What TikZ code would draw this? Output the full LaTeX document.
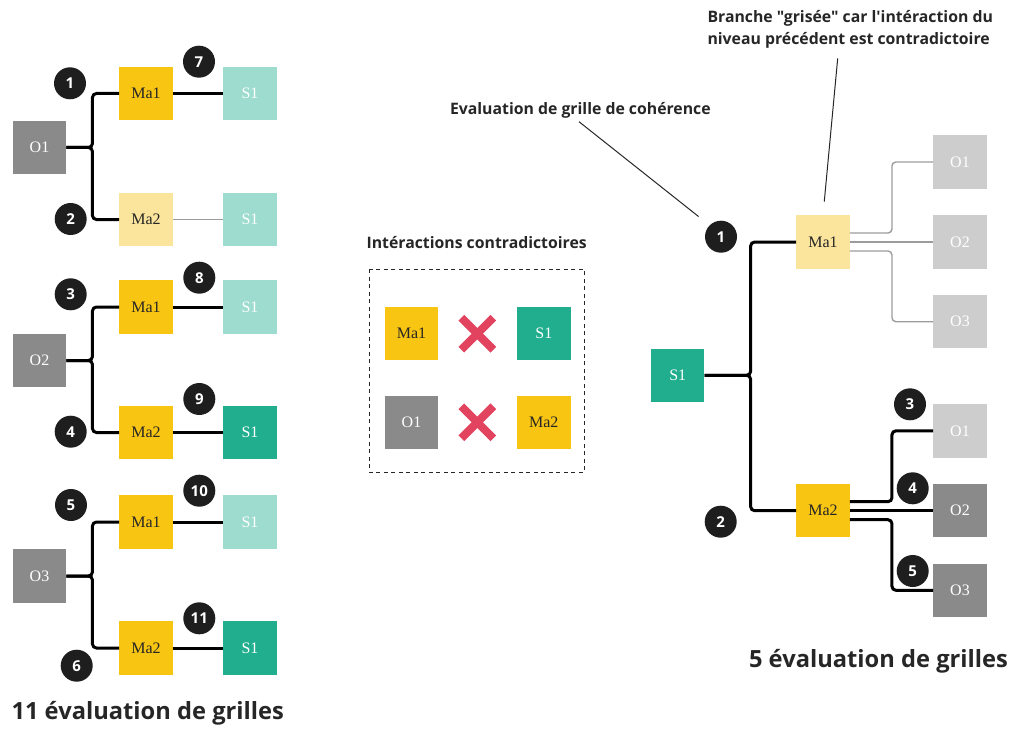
\documentclass[tikz,border=0pt]{standalone}
\usepackage{fontspec}
\setmainfont{Liberation Serif}
\newfontfamily\opensans{Open Sans}
\usepackage{tikz}
\usetikzlibrary{calc}

\definecolor{jaune}{HTML}{F9C513}
\definecolor{jaunepale}{HTML}{FBE49C}
\definecolor{vert}{HTML}{21AE8E}
\definecolor{vertpale}{HTML}{9DDCCF}
\definecolor{gris}{HTML}{8A8A8A}
\definecolor{grispale}{HTML}{CDCDCD}
\definecolor{filgris}{HTML}{9C9C9C}
\definecolor{noir}{HTML}{1E1E1E}
\definecolor{texte}{HTML}{262626}
\definecolor{rouge}{HTML}{E2435F}

\begin{document}
\begin{tikzpicture}[x=1pt,y=-1pt,
    boite/.style={minimum size=53.5pt,inner sep=0pt,font=\fontsize{16}{16}\selectfont},
    bo/.style={boite,fill=gris,text=white},
    bop/.style={boite,fill=grispale,text=white},
    bma/.style={boite,fill=jaune,text=texte},
    bmap/.style={boite,fill=jaunepale,text=texte},
    bs/.style={boite,fill=vert,text=white},
    bsp/.style={boite,fill=vertpale,text=white},
    pastille/.style={circle,fill=noir,text=white,minimum size=32pt,inner sep=0pt,
        font=\opensans\bfseries\fontsize{15}{15}\selectfont},
    branche/.style={line width=3pt,draw=black,rounded corners=4pt},
    brgrise/.style={line width=1.4pt,draw=filgris,rounded corners=4pt},
    fil/.style={line width=1pt,draw=texte},
    note/.style={text=texte,font=\opensans\bfseries\fontsize{15.8}{22}\selectfont},
    titre/.style={text=texte,font=\opensans\bfseries\fontsize{23.7}{24}\selectfont},
    croix/.style={line width=8pt,draw=rouge}]

    % cadre
    \useasboundingbox (0,0) rectangle (1011,754);

    % arbre O1
    \node[bo] (o1) at (39.5,147.5) {O1};
    \node[bma] (ma1a) at (146,93.5) {Ma1};
    \node[bsp] (s1a) at (250,93.5) {S1};
    \node[bmap] (ma2a) at (146,219.5) {Ma2};
    \node[bsp] (s1b) at (250,219.5) {S1};
    \draw[branche] (o1.east) -- ++(26,0) |- (ma1a.west);
    \draw[branche] (o1.east) -- ++(26,0) |- (ma2a.west);
    \draw[branche] (ma1a.east) -- (s1a.west);
    \draw[brgrise] (ma2a.east) -- (s1b.west);

    % arbre O2
    \node[bo] (o2) at (39.5,360.5) {O2};
    \node[bma] (ma1b) at (146,307) {Ma1};
    \node[bsp] (s1c) at (250,307) {S1};
    \node[bma] (ma2b) at (146,432.5) {Ma2};
    \node[bs] (s1d) at (250,432.5) {S1};
    \draw[branche] (o2.east) -- ++(26,0) |- (ma1b.west);
    \draw[branche] (o2.east) -- ++(26,0) |- (ma2b.west);
    \draw[branche] (ma1b.east) -- (s1c.west);
    \draw[branche] (ma2b.east) -- (s1d.west);

    % arbre O3
    \node[bo] (o3) at (39.5,576) {O3};
    \node[bma] (ma1c) at (146,522) {Ma1};
    \node[bsp] (s1e) at (250,522) {S1};
    \node[bma] (ma2c) at (146,648) {Ma2};
    \node[bs] (s1f) at (250,648) {S1};
    \draw[branche] (o3.east) -- ++(26,0) |- (ma1c.west);
    \draw[branche] (o3.east) -- ++(26,0) |- (ma2c.west);
    \draw[branche] (ma1c.east) -- (s1e.west);
    \draw[branche] (ma2c.east) -- (s1f.west);

    % pastilles gauche
    \node[pastille] (p1) at (70,83.3) {1};
    \node[pastille] (p2) at (70.7,219) {2};
    \node[pastille] (p3) at (70.7,294.3) {3};
    \node[pastille] (p4) at (70.7,431.7) {4};
    \node[pastille] (p5) at (71,505) {5};
    \node[pastille] (p6) at (76.7,665.7) {6};
    \node[pastille] (p7) at (199,61.7) {7};
    \node[pastille] (p8) at (199.3,277.7) {8};
    \node[pastille] (p9) at (199.3,399) {9};
    \node[pastille] (p10) at (199.3,490.7) {10};
    \node[pastille] (p11) at (199.3,618.3) {11};

    \node[titre,anchor=west] (total11) at (8,713) {11 évaluation de grilles};

    % interactions contradictoires
    \node[note] (inter) at (476.7,242.7) {Intéractions contradictoires};
    \draw[line width=0.9pt,draw=texte,dash pattern=on 4pt off 3.5pt] (369.3,269.3) rectangle (584.3,472.3);
    \node[bma] (cma1) at (411.5,333.7) {Ma1};
    \node[bs] (cs1) at (543.8,333.7) {S1};
    \node[bo] (co1) at (411.5,422.3) {O1};
    \node[bma] (cma2) at (543.8,422.3) {Ma2};
    \coordinate (x1) at (477.3,333.7);
    \coordinate (x2) at (477.3,422.3);
    \draw[croix] ($(x1)+(-16,-16)$) -- ($(x1)+(16,16)$);
    \draw[croix] ($(x1)+(-16,16)$) -- ($(x1)+(16,-16)$);
    \draw[croix] ($(x2)+(-16,-16)$) -- ($(x2)+(16,16)$);
    \draw[croix] ($(x2)+(-16,16)$) -- ($(x2)+(16,-16)$);

    % arbre S1
    \node[bs] (rs1) at (677.7,375.3) {S1};
    \node[bmap] (rma1) at (823,242) {Ma1};
    \node[bma] (rma2) at (823,510.7) {Ma2};
    \node[bop] (ro1a) at (960,162) {O1};
    \node[bop] (ro2a) at (960,242) {O2};
    \node[bop] (ro3a) at (960,321.7) {O3};
    \node[bop] (ro1b) at (960,430.8) {O1};
    \node[bo] (ro2b) at (960,510.7) {O2};
    \node[bo] (ro3b) at (960,590.3) {O3};
    \draw[branche] (rs1.east) -- ++(46,0) |- (rma1.west);
    \draw[branche] (rs1.east) -- ++(46,0) |- (rma2.west);
    \draw[brgrise] ([yshift=9pt]rma1.east) -- ++(42,0) |- (ro1a.west);
    \draw[brgrise] (rma1.east) -- (ro2a.west);
    \draw[brgrise] ([yshift=-9pt]rma1.east) -- ++(42,0) |- (ro3a.west);
    \draw[branche] ([yshift=9pt]rma2.east) -- ++(42,0) |- (ro1b.west);
    \draw[branche] (rma2.east) -- (ro2b.west);
    \draw[branche] ([yshift=-9pt]rma2.east) -- ++(42,0) |- (ro3b.west);

    % pastilles droite
    \node[pastille] (q1) at (721,236.7) {1};
    \node[pastille] (q2) at (720.7,521.7) {2};
    \node[pastille] (q3) at (910,404.3) {3};
    \node[pastille] (q4) at (912.7,488.3) {4};
    \node[pastille] (q5) at (912.7,571) {5};

    % notes
    \node[note,anchor=west] (eval) at (446.5,110) {Evaluation de grille de cohérence};
    \coordinate (evalfil) at (579,121.7);
    \draw[fil,shorten >=14pt] (evalfil) -- (q1.north west);
    \node[note,anchor=north west,align=left] (grise) at (704,7) {Branche "grisée" car l'intéraction du\\niveau précédent est contradictoire};
    \coordinate (grisefil) at (837.7,58.3);
    \draw[fil,shorten >=13.5pt] (grisefil) -- (rma1.north);

    \node[titre,anchor=west] (total5) at (745.5,661.7) {5 évaluation de grilles};
\end{tikzpicture}
\end{document}
